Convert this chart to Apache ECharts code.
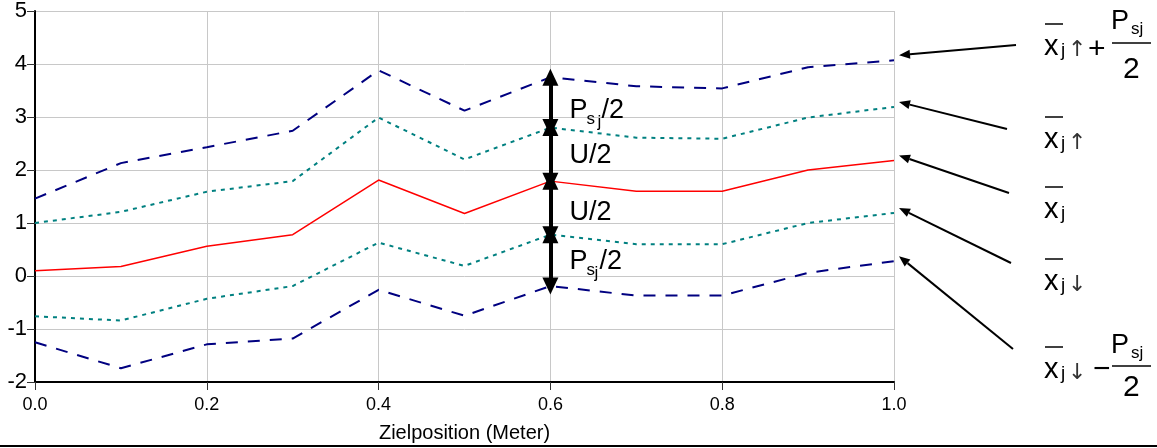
<!DOCTYPE html>
<html>
<head>
<meta charset="utf-8">
<script src="https://cdn.jsdelivr.net/npm/echarts@6/dist/echarts.min.js"></script>
<style>
  html, body { margin: 0; padding: 0; background: #ffffff; }
  #chart { width: 1157px; height: 448px; }
</style>
</head>
<body>
<div id="chart"></div>
<script>
// Target positions (metres) along the x axis
const positions = [0.0, 0.1, 0.2, 0.3, 0.4, 0.5, 0.6, 0.7, 0.8, 0.9, 1.0];
// Mean + upper band + Psj/2
const upperLimit = [1.46, 2.13, 2.43, 2.74, 3.88, 3.12, 3.75, 3.58, 3.54, 3.94, 4.07];
// Mean + U/2
const upperMean = [1.00, 1.21, 1.59, 1.79, 2.99, 2.20, 2.80, 2.61, 2.59, 2.99, 3.19];
// Mean value x̄j
const meanValue = [0.10, 0.18, 0.56, 0.78, 1.81, 1.18, 1.79, 1.60, 1.60, 2.00, 2.18];
// Mean - U/2
const lowerMean = [-0.76, -0.84, -0.43, -0.19, 0.63, 0.19, 0.78, 0.60, 0.60, 1.00, 1.19];
// Mean - U/2 - Psj/2
const lowerLimit = [-1.25, -1.74, -1.29, -1.18, -0.26, -0.75, -0.19, -0.37, -0.37, 0.06, 0.28];

const xTickLabels = ['0.0', '0.2', '0.4', '0.6', '0.8', '1.0'];
const yTickLabels = ['-2', '-1', '0', '1', '2', '3', '4', '5'];
const xAxisTitle = 'Zielposition (Meter)';

// index of the position where the band widths are marked with arrows
const markIndex = 6;

const FONT = '"Liberation Sans", Arial, Helvetica, sans-serif';
const ARROW_FONT = '"DejaVu Sans", sans-serif';

function pairs(ys) { return positions.map((x, i) => [x, ys[i]]); }

const chart = echarts.init(document.getElementById('chart'), null, { renderer: 'canvas' });

const bandArrows = [
  [upperLimit, upperMean],
  [upperMean, meanValue],
  [meanValue, lowerMean],
  [lowerMean, lowerLimit]
].map(([a, b]) => [
  { coord: [positions[markIndex], a[markIndex]] },
  { coord: [positions[markIndex], b[markIndex]] }
]);

chart.setOption({
  animation: false,
  backgroundColor: '#ffffff',
  grid: { left: 35, right: 263, top: 6, bottom: 66, containLabel: false },
  xAxis: {
    type: 'value', min: 0, max: 1, interval: 0.2,
    name: xAxisTitle, nameLocation: 'middle', nameGap: 41,
    nameTextStyle: { fontFamily: FONT, fontSize: 20, color: '#000' },
    axisLine: { show: true, onZero: false, lineStyle: { color: '#000', width: 2 } },
    axisTick: { show: true, inside: false, length: 8, lineStyle: { color: '#333', width: 1 } },
    axisLabel: {
      margin: 14, fontFamily: FONT, fontSize: 18, color: '#000',
      formatter: v => xTickLabels[Math.round(v / 0.2)]
    },
    splitLine: { show: true, lineStyle: { color: '#c8c8c8', width: 1 } }
  },
  yAxis: {
    type: 'value', min: -2, max: 5, interval: 1,
    axisLine: { show: true, onZero: false, lineStyle: { color: '#000', width: 2 } },
    axisTick: { show: true, inside: false, length: 8, lineStyle: { color: '#333', width: 1 } },
    axisLabel: {
      margin: 8, fontFamily: FONT, fontSize: 22, color: '#000',
      formatter: v => yTickLabels[Math.round(v + 2)]
    },
    splitLine: { show: true, lineStyle: { color: '#c8c8c8', width: 1 } }
  },
  series: [
    {
      name: 'upperLimit', type: 'line', data: pairs(upperLimit), symbol: 'none',
      lineStyle: { color: '#000080', width: 2, type: [12, 10] }, z: 3
    },
    {
      name: 'upperMean', type: 'line', data: pairs(upperMean), symbol: 'none',
      lineStyle: { color: '#008080', width: 2, type: [4, 5] }, z: 3
    },
    {
      name: 'meanValue', type: 'line', data: pairs(meanValue), symbol: 'none',
      lineStyle: { color: '#ff0000', width: 1.5 }, z: 4,
      markLine: {
        silent: true, animation: false,
        symbol: ['triangle', 'triangle'], symbolSize: [16, 17],
        lineStyle: { color: '#000', width: 4, type: 'solid' },
        itemStyle: { color: '#000' },
        label: { show: false },
        emphasis: { disabled: true },
        data: bandArrows
      }
    },
    {
      name: 'lowerMean', type: 'line', data: pairs(lowerMean), symbol: 'none',
      lineStyle: { color: '#008080', width: 2, type: [4, 5] }, z: 3
    },
    {
      name: 'lowerLimit', type: 'line', data: pairs(lowerLimit), symbol: 'none',
      lineStyle: { color: '#000080', width: 2, type: [12, 10] }, z: 3
    }
  ]
});

// ---------- annotation graphics ----------
const g = [];

function txt(t, x, baseline, size, fill, family) {
  g.push({
    type: 'text', z: 100, silent: true,
    style: {
      text: t, x: x, y: baseline - 0.35 * size,
      font: size + 'px ' + (family || FONT), fill: fill || '#000',
      textAlign: 'left', textVerticalAlign: 'middle'
    }
  });
}
function hline(x1, x2, y, w) {
  g.push({
    type: 'line', z: 100, silent: true,
    shape: { x1: x1, y1: y, x2: x2, y2: y },
    style: { stroke: '#000', lineWidth: w || 1.5 }
  });
}
function pointer(from, to) {
  const dx = to[0] - from[0], dy = to[1] - from[1];
  const len = Math.sqrt(dx * dx + dy * dy);
  const ux = dx / len, uy = dy / len;
  const hl = 11, hw = 4.5;
  const bx = to[0] - ux * hl, by = to[1] - uy * hl;
  g.push({
    type: 'line', z: 100, silent: true,
    shape: { x1: from[0], y1: from[1], x2: bx, y2: by },
    style: { stroke: '#000', lineWidth: 2 }
  });
  g.push({
    type: 'polygon', z: 100, silent: true,
    shape: { points: [[to[0], to[1]], [bx - uy * hw, by + ux * hw], [bx + uy * hw, by - ux * hw]] },
    style: { fill: '#000' }
  });
}

// labels beside the band arrows
const mx = chart.convertToPixel({ gridIndex: 0 }, [positions[markIndex], 0])[0];
function yPx(v) { return chart.convertToPixel({ gridIndex: 0 }, [0, v])[1]; }
const bandLabels = [
  { a: upperLimit, b: upperMean, parts: [['P', 0, 0, 27], ['s', 17, 5, 17], ['j', 28, 8, 17], ['/2', 32, 0, 27]], dy: 18 },
  { a: upperMean, b: meanValue, parts: [['U/2', 0, 0, 27]], dy: 11 },
  { a: meanValue, b: lowerMean, parts: [['U/2', 0, 0, 27]], dy: 14 },
  { a: lowerMean, b: lowerLimit, parts: [['P', 0, 0, 27], ['s', 17, 5, 17], ['j', 25, 8, 17], ['/2', 30, 0, 27]], dy: 11 }
];
bandLabels.forEach(l => {
  const mid = (yPx(l.a[markIndex]) + yPx(l.b[markIndex])) / 2;
  const x0 = mx + 19;
  l.parts.forEach(p => txt(p[0], x0 + p[1], mid + l.dy + p[2], p[3]));
});

// formula labels on the right
function xbar(top, arrow) {
  hline(1045, 1063, top, 1.5);
  txt('x', 1044, top + 33, 29);
  txt('j', 1061, top + 33, 19);
  if (arrow) txt(arrow, 1068, top + 34, 22, '#333', ARROW_FONT);
}
xbar(24, '\u2191');
txt('+', 1088, 60, 30);
txt('P', 1111, 31, 27);
txt('sj', 1131, 35, 17);
hline(1112, 1151, 43, 1.5);
txt('2', 1123, 80, 30);

xbar(117, '\u2191');
xbar(187, null);
xbar(259, '\u2193');

xbar(347, '\u2193');
txt('\u2212', 1093, 380, 30);
txt('P', 1111, 355, 27);
txt('sj', 1131, 359, 17);
hline(1112, 1151, 366, 1.5);
txt('2', 1123, 398, 30);

// pointers from the formulas to the line ends
const endX = positions.length - 1;
const ends = [upperLimit, upperMean, meanValue, lowerMean, lowerLimit].map(s =>
  chart.convertToPixel({ gridIndex: 0 }, [positions[endX], s[endX]]));
const tails = [[1016, 45], [1007, 129], [1009, 193], [1011, 263], [1013, 349]];
ends.forEach((e, i) => pointer(tails[i], [e[0] + 5, e[1] - 5]));

// rule along the bottom edge
g.push({
  type: 'line', z: 100, silent: true,
  shape: { x1: 0, y1: 446, x2: 1157, y2: 446 },
  style: { stroke: '#000', lineWidth: 2 }
});

chart.setOption({ graphic: g });
</script>
</body>
</html>
